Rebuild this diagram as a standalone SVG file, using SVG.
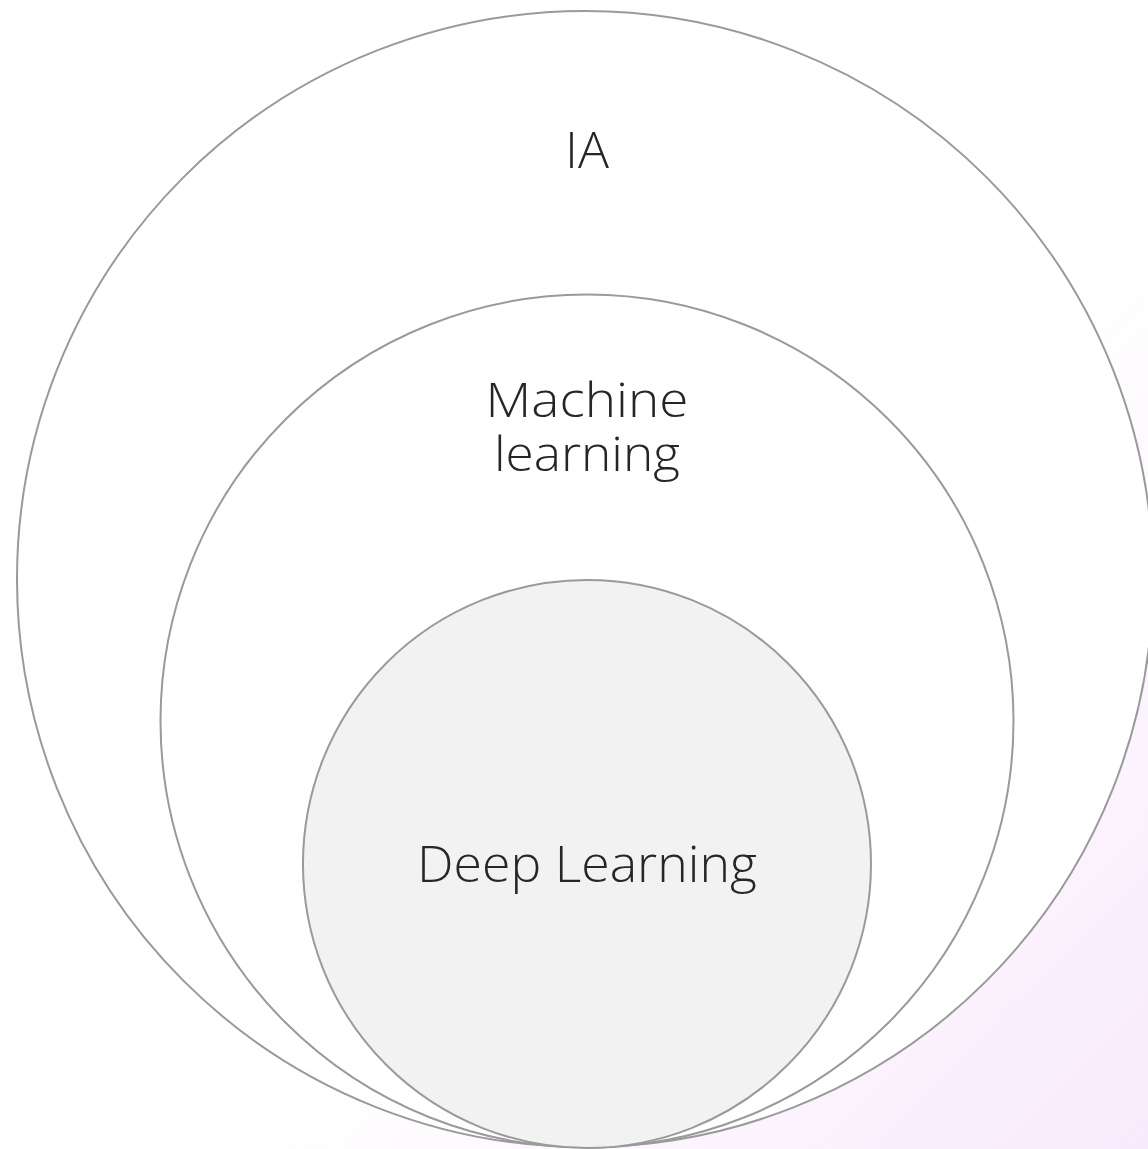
<svg xmlns="http://www.w3.org/2000/svg" width="1148" height="1149" viewBox="0 0 1148 1149">
  <defs>
    <linearGradient id="bgTint" x1="0" y1="0" x2="1" y2="1">
      <stop offset="0.6" stop-color="#ffffff"/>
      <stop offset="1" stop-color="#f8eafc"/>
    </linearGradient>
    <style>
      .ring { stroke: #9a9a9a; stroke-width: 2; }
      .label { font-family: "Open Sans", "Liberation Sans", sans-serif; font-weight: 300; font-size: 50px; fill: #262626; text-anchor: middle; }
      .label.two-line { font-size: 47px; }
    </style>
  </defs>
  <!-- background with soft tint toward the lower right -->
  <rect x="0" y="0" width="1148" height="1149" fill="url(#bgTint)"/>

  <g id="ia">
    <circle class="ring" cx="585" cy="579" r="568" fill="#ffffff"/>
    <text class="label" x="587" y="168" textLength="44" lengthAdjust="spacingAndGlyphs">IA</text>
  </g>

  <g id="machine-learning">
    <circle class="ring" cx="587" cy="721" r="426.5" fill="#ffffff"/>
    <!-- two-line label kept in one text element; no whitespace between lines -->
    <text class="label two-line"><tspan x="587" y="417" textLength="203" lengthAdjust="spacingAndGlyphs">Machine</tspan><tspan x="587" y="471" textLength="186" lengthAdjust="spacingAndGlyphs">learning</tspan></text>
  </g>

  <g id="deep-learning">
    <circle class="ring" cx="587" cy="864" r="284" fill="#f2f2f2"/>
    <text class="label" x="587" y="882" textLength="340" lengthAdjust="spacingAndGlyphs">Deep Learning</text>
  </g>

  <g id="connectors"/>
</svg>
